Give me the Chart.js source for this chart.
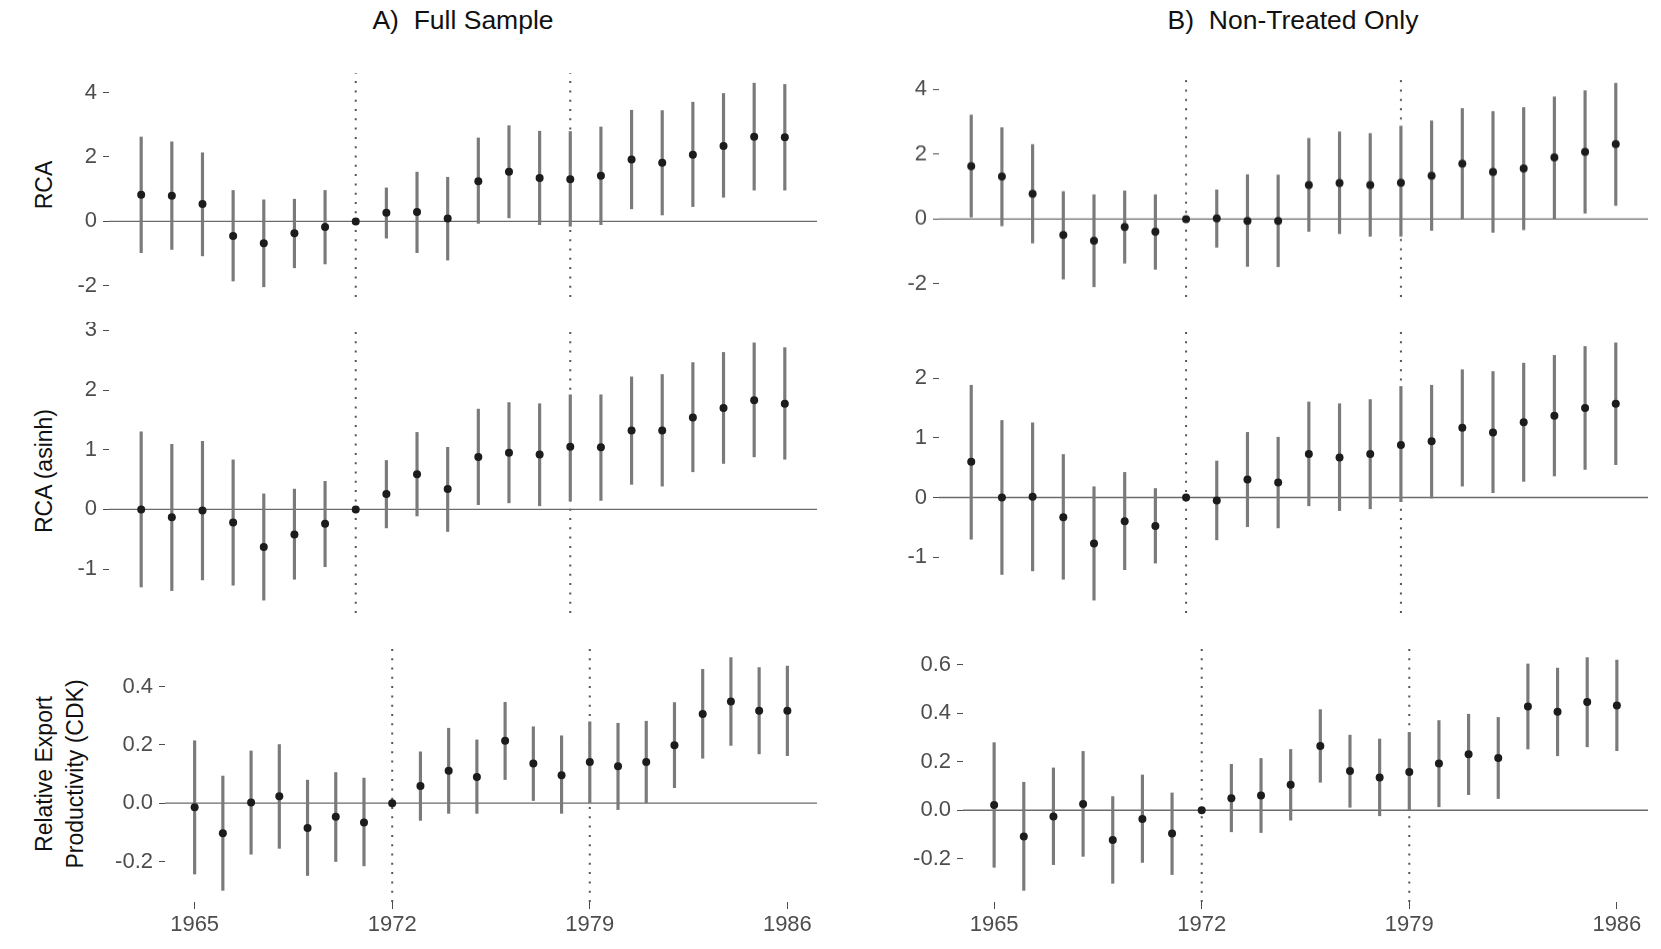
<!DOCTYPE html>
<html lang="en">
<head>
<meta charset="UTF-8">
<title>Event study: RCA and export productivity</title>
<script src="https://cdn.jsdelivr.net/npm/chart.js"></script>
<style>
  body { margin: 0; background: #fff; font-family: 'Liberation Sans', Arial, sans-serif; }
  #page { position: relative; width: 1661px; height: 949px; overflow: hidden; background: #fff; }
  .panel { position: absolute; }
  .title { position: absolute; width: 600px; text-align: center; font-size: 26.5px; line-height: 30px; color: #111; }
  .ylab {
    position: absolute; width: 400px; height: 70px;
    display: flex; align-items: center; justify-content: center; text-align: center;
    font-size: 23px; line-height: 31px; color: #111;
    transform: rotate(-90deg);
  }
</style>
</head>
<body>
<div id="page">
  <div class="title" style="left:163px;top:5px">A)&nbsp;&nbsp;Full Sample</div>
  <div class="title" style="left:993px;top:5px">B)&nbsp;&nbsp;Non-Treated Only</div>
  <div class="ylab" style="left:-156px;top:150px">RCA</div>
  <div class="ylab" style="left:-156px;top:436px">RCA (asinh)</div>
  <div class="ylab" style="left:-140px;top:739px">Relative Export<br>Productivity (CDK)</div>
</div>

<script>
// years of the event study, reference lines, x tick labels
const years = [1965, 1966, 1967, 1968, 1969, 1970, 1971, 1972, 1973, 1974, 1975,
               1976, 1977, 1978, 1979, 1980, 1981, 1982, 1983, 1984, 1985, 1986];
const refYears = [1972, 1979];
const xTicks = [1965, 1972, 1979, 1986];

// A) Full sample - RCA
const rcaFullEst = [0.83, 0.80, 0.54, -0.45, -0.68, -0.37, -0.17, 0, 0.27, 0.29, 0.09, 1.25, 1.54, 1.35, 1.31, 1.42, 1.92, 1.82, 2.07, 2.34, 2.63, 2.61];
const rcaFullLo  = [-0.97, -0.87, -1.07, -1.85, -2.03, -1.44, -1.32, 0, -0.52, -0.97, -1.20, -0.06, 0.11, -0.10, -0.15, -0.10, 0.39, 0.20, 0.46, 0.75, 0.97, 0.97];
const rcaFullHi  = [2.62, 2.47, 2.13, 0.96, 0.67, 0.69, 0.96, 0, 1.04, 1.53, 1.37, 2.59, 2.97, 2.80, 2.79, 2.93, 3.45, 3.44, 3.70, 3.97, 4.29, 4.25];

// A) Full sample - RCA (asinh)
const asinhFullEst = [0.00, -0.13, -0.02, -0.22, -0.63, -0.42, -0.24, 0, 0.26, 0.59, 0.34, 0.88, 0.95, 0.92, 1.05, 1.04, 1.32, 1.32, 1.54, 1.70, 1.83, 1.77];
const asinhFullLo  = [-1.30, -1.36, -1.18, -1.27, -1.52, -1.17, -0.96, 0, -0.31, -0.11, -0.37, 0.08, 0.11, 0.06, 0.14, 0.15, 0.42, 0.39, 0.63, 0.77, 0.88, 0.84];
const asinhFullHi  = [1.30, 1.09, 1.14, 0.83, 0.26, 0.34, 0.47, 0, 0.82, 1.29, 1.04, 1.68, 1.79, 1.77, 1.92, 1.92, 2.22, 2.26, 2.46, 2.63, 2.79, 2.71];

// A) Full sample - relative export productivity (CDK)
const cdkFullEst = [-0.014, -0.103, 0.002, 0.024, -0.085, -0.047, -0.066, 0, 0.059, 0.111, 0.090, 0.214, 0.136, 0.096, 0.141, 0.127, 0.141, 0.199, 0.306, 0.349, 0.317, 0.317];
const cdkFullLo  = [-0.243, -0.299, -0.175, -0.155, -0.248, -0.200, -0.215, 0, -0.059, -0.035, -0.035, 0.081, 0.009, -0.035, 0.000, -0.022, 0.000, 0.053, 0.154, 0.198, 0.169, 0.163];
const cdkFullHi  = [0.214, 0.093, 0.179, 0.201, 0.079, 0.105, 0.086, 0, 0.176, 0.257, 0.217, 0.346, 0.262, 0.231, 0.279, 0.274, 0.281, 0.345, 0.459, 0.499, 0.465, 0.470];

// B) Non-treated only - RCA
const rcaNtEst = [1.63, 1.31, 0.78, -0.49, -0.67, -0.24, -0.39, 0, 0.02, -0.06, -0.06, 1.05, 1.11, 1.05, 1.12, 1.34, 1.71, 1.45, 1.56, 1.90, 2.07, 2.31];
const rcaNtLo  = [0.06, -0.21, -0.74, -1.85, -2.09, -1.36, -1.55, 0, -0.87, -1.46, -1.47, -0.38, -0.45, -0.53, -0.53, -0.35, 0.00, -0.41, -0.33, 0.00, 0.18, 0.42];
const rcaNtHi  = [3.21, 2.82, 2.30, 0.85, 0.75, 0.87, 0.75, 0, 0.90, 1.37, 1.36, 2.49, 2.69, 2.64, 2.87, 3.03, 3.41, 3.32, 3.44, 3.77, 3.96, 4.19];

// B) Non-treated only - RCA (asinh)
const asinhNtEst = [0.60, 0.00, 0.01, -0.33, -0.77, -0.40, -0.48, 0, -0.05, 0.30, 0.25, 0.73, 0.67, 0.73, 0.88, 0.94, 1.17, 1.09, 1.26, 1.37, 1.50, 1.57];
const asinhNtLo  = [-0.70, -1.29, -1.23, -1.37, -1.72, -1.21, -1.10, 0, -0.71, -0.49, -0.51, -0.14, -0.22, -0.19, -0.07, -0.01, 0.19, 0.08, 0.27, 0.36, 0.47, 0.55];
const asinhNtHi  = [1.88, 1.29, 1.25, 0.72, 0.18, 0.42, 0.15, 0, 0.61, 1.09, 1.01, 1.60, 1.57, 1.64, 1.86, 1.88, 2.14, 2.11, 2.25, 2.38, 2.53, 2.59];

// B) Non-treated only - CDK
const cdkNtEst = [0.021, -0.108, -0.026, 0.026, -0.123, -0.036, -0.096, 0, 0.049, 0.060, 0.105, 0.264, 0.161, 0.135, 0.157, 0.192, 0.230, 0.215, 0.427, 0.405, 0.445, 0.431];
const cdkNtLo  = [-0.235, -0.330, -0.224, -0.190, -0.301, -0.215, -0.265, 0, -0.089, -0.092, -0.041, 0.115, 0.012, -0.023, 0.000, 0.014, 0.064, 0.048, 0.252, 0.224, 0.261, 0.245];
const cdkNtHi  = [0.278, 0.115, 0.174, 0.242, 0.056, 0.145, 0.071, 0, 0.189, 0.213, 0.250, 0.414, 0.309, 0.293, 0.320, 0.369, 0.395, 0.382, 0.602, 0.585, 0.628, 0.618];

// y tick labels per panel
const rcaTicks = [-2, 0, 2, 4];
const asinhFullTicks = [-1, 0, 1, 2, 3];
const asinhNtTicks = [-1, 0, 1, 2];
const cdkFullTicks = [-0.2, 0.0, 0.2, 0.4];
const cdkNtTicks = [-0.2, 0.0, 0.2, 0.4, 0.6];

const W = 100, H = 46, padTop = 8, padRight = 12, padBottom = 8;
const tickFont = { family: "'Liberation Sans', Arial, sans-serif", size: 22 };
const grey = '#4d4d4d';

function makePanel(rect, est, lo, hi, yTicks, digits, showX) {
    // ggplot-like 5% expansion on both axes
    const yLow = Math.min(...lo), yHigh = Math.max(...hi);
    const yMin = yLow - (yHigh - yLow) * 0.05, yMax = yHigh + (yHigh - yLow) * 0.05;
    const x0 = years[0], x1 = years[years.length - 1];
    const xMin = x0 - (x1 - x0) * 0.05, xMax = x1 + (x1 - x0) * 0.05;

    const cw = W + rect.r - rect.l + padRight;
    const ch = padTop + rect.b - rect.t + (showX ? H : padBottom);
    const canvas = document.createElement('canvas');
    canvas.className = 'panel';
    canvas.width = cw; canvas.height = ch;
    canvas.style.width = cw + 'px'; canvas.style.height = ch + 'px';
    canvas.style.left = (rect.l - W) + 'px';
    canvas.style.top = (rect.t - padTop) + 'px';
    document.getElementById('page').appendChild(canvas);

    const datasets = [
        {
            type: 'scatter',
            data: years.map((y, i) => ({ x: y, y: est[i] })),
            pointRadius: 4, pointBackgroundColor: '#1c1c1c', pointBorderWidth: 0,
            order: 0
        },
        {
            type: 'bar',
            data: years.map((y, i) => ({ x: y, y: [lo[i], hi[i]] })),
            backgroundColor: '#7a7a7a', barThickness: 2.5, borderWidth: 0,
            order: 1
        },
        {
            type: 'line',
            data: [{ x: xMin, y: 0 }, { x: xMax, y: 0 }],
            borderColor: '#6b6b6b', borderWidth: 1.4, pointRadius: 0,
            order: 2
        }
    ];
    refYears.forEach(r => {
        datasets.push({
            type: 'line',
            data: [{ x: r, y: yMin }, { x: r, y: yMax }],
            borderColor: '#555', borderWidth: 2, borderDash: [2, 7.3], pointRadius: 0,
            order: 3
        });
    });

    new Chart(canvas, {
        type: 'scatter',
        data: { datasets: datasets },
        options: {
            responsive: false,
            animation: false,
            events: [],
            layout: { padding: { top: padTop, right: padRight, bottom: showX ? 0 : padBottom, left: 0 } },
            plugins: { legend: { display: false }, tooltip: { enabled: false } },
            scales: {
                x: {
                    type: 'linear', min: xMin, max: xMax, offset: false, display: showX,
                    grid: { drawOnChartArea: false, drawTicks: true, tickLength: 7, color: grey, offset: false },
                    border: { display: false },
                    afterBuildTicks: s => { s.ticks = xTicks.map(v => ({ value: v })); },
                    afterFit: s => {
                        s.height = showX ? H : 0;
                        s.paddingLeft = 0; s.paddingRight = 0;
                    },
                    ticks: { font: tickFont, color: grey, padding: 3, maxRotation: 0, autoSkip: false,
                             callback: v => String(v) }
                },
                y: {
                    type: 'linear', min: yMin, max: yMax,
                    grid: { drawOnChartArea: false, drawTicks: true, tickLength: 6, color: grey },
                    border: { display: false },
                    afterBuildTicks: s => { s.ticks = yTicks.map(v => ({ value: v })); },
                    afterFit: s => {
                        s.width = W;
                        s.paddingTop = 0; s.paddingBottom = 0;
                    },
                    ticks: { font: tickFont, color: grey, padding: 6, callback: v => v.toFixed(digits) }
                }
            }
        }
    });
}

makePanel({ l: 109, t: 73, r: 817, b: 297 }, rcaFullEst, rcaFullLo, rcaFullHi, rcaTicks, 0, false);
makePanel({ l: 109, t: 329.6, r: 817, b: 612.6 }, asinhFullEst, asinhFullLo, asinhFullHi, asinhFullTicks, 0, false);
makePanel({ l: 165, t: 646, r: 817, b: 902 }, cdkFullEst, cdkFullLo, cdkFullHi, cdkFullTicks, 1, true);
makePanel({ l: 939, t: 73, r: 1648, b: 296.5 }, rcaNtEst, rcaNtLo, rcaNtHi, rcaTicks, 0, false);
makePanel({ l: 939, t: 329.5, r: 1648, b: 613 }, asinhNtEst, asinhNtLo, asinhNtHi, asinhNtTicks, 0, false);
makePanel({ l: 963, t: 646, r: 1648, b: 902 }, cdkNtEst, cdkNtLo, cdkNtHi, cdkNtTicks, 1, true);
</script>
</body>
</html>
